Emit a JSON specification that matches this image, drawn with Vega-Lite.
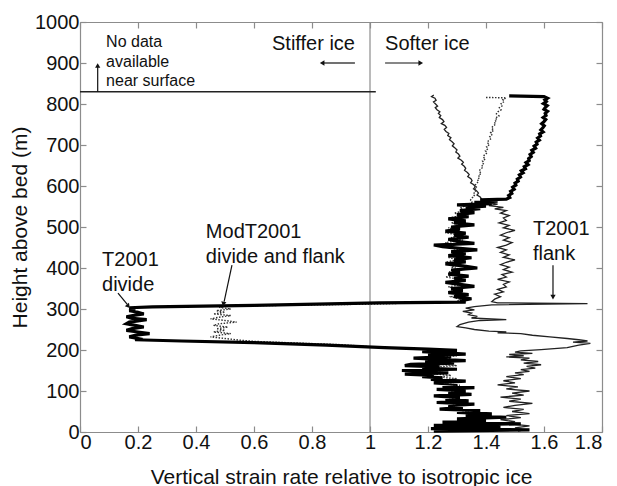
{
  "$schema": "https://vega.github.io/schema/vega-lite/v6.json",
  "width": 522,
  "height": 410,
  "autosize": {"type": "none"},
  "padding": {"left": 80, "top": 22, "right": 15, "bottom": 54},
  "background": "white",
  "config": {
    "view": {"stroke": null},
    "font": "Liberation Sans",
    "axis": {"grid": false, "domainColor": "#8c8c8c", "tickColor": "#8c8c8c", "labelColor": "#111", "titleColor": "#111", "labelFont": "Liberation Sans", "titleFont": "Liberation Sans", "labelFontSize": 20, "titleFontSize": 21, "titleFontWeight": "normal", "tickSize": -6, "tickWidth": 1.2, "domainWidth": 1.2}
  },
  "datasets": {
    "divide": [
      {"h":820,"v":1.48},{"h":818,"v":1.60},{"h":814,"v":1.612},{"h":810,"v":1.603},{"h":806,"v":1.608},{"h":801,"v":1.598},{"h":796,"v":1.611},{"h":792,"v":1.605},{"h":787,"v":1.60},{"h":782,"v":1.612},{"h":777,"v":1.604},{"h":772,"v":1.607},{"h":767,"v":1.597},{"h":762,"v":1.606},{"h":757,"v":1.60},{"h":752,"v":1.592},{"h":747,"v":1.601},{"h":742,"v":1.596},{"h":737,"v":1.589},{"h":732,"v":1.597},{"h":727,"v":1.585},{"h":722,"v":1.588},{"h":717,"v":1.578},{"h":712,"v":1.584},{"h":707,"v":1.573},{"h":702,"v":1.576},{"h":697,"v":1.566},{"h":692,"v":1.571},{"h":687,"v":1.558},{"h":682,"v":1.563},{"h":677,"v":1.552},{"h":672,"v":1.556},{"h":667,"v":1.547},{"h":662,"v":1.549},{"h":657,"v":1.538},{"h":652,"v":1.545},{"h":647,"v":1.532},{"h":642,"v":1.536},{"h":637,"v":1.522},{"h":632,"v":1.528},{"h":627,"v":1.515},{"h":622,"v":1.519},{"h":617,"v":1.508},{"h":612,"v":1.511},{"h":607,"v":1.50},{"h":602,"v":1.503},{"h":597,"v":1.492},{"h":592,"v":1.497},{"h":587,"v":1.485},{"h":582,"v":1.489},{"h":577,"v":1.478},{"h":572,"v":1.482},{"h":568,"v":1.47},{"h":566,"v":1.38},{"h":563,"v":1.44},{"h":560,"v":1.36},{"h":557,"v":1.42},{"h":554,"v":1.30},{"h":551,"v":1.40},{"h":548,"v":1.33},{"h":545,"v":1.38},{"h":540,"v":1.31},{"h":535,"v":1.36},{"h":530,"v":1.30},{"h":525,"v":1.34},{"h":520,"v":1.27},{"h":515,"v":1.33},{"h":510,"v":1.29},{"h":505,"v":1.36},{"h":500,"v":1.28},{"h":495,"v":1.31},{"h":490,"v":1.26},{"h":485,"v":1.33},{"h":480,"v":1.29},{"h":475,"v":1.34},{"h":470,"v":1.27},{"h":465,"v":1.30},{"h":460,"v":1.36},{"h":456,"v":1.22},{"h":452,"v":1.25},{"h":448,"v":1.31},{"h":444,"v":1.37},{"h":440,"v":1.28},{"h":435,"v":1.33},{"h":430,"v":1.27},{"h":425,"v":1.35},{"h":420,"v":1.29},{"h":415,"v":1.33},{"h":410,"v":1.26},{"h":405,"v":1.32},{"h":400,"v":1.37},{"h":395,"v":1.28},{"h":390,"v":1.31},{"h":385,"v":1.27},{"h":380,"v":1.34},{"h":375,"v":1.29},{"h":370,"v":1.33},{"h":365,"v":1.26},{"h":360,"v":1.31},{"h":355,"v":1.36},{"h":350,"v":1.28},{"h":345,"v":1.32},{"h":340,"v":1.27},{"h":335,"v":1.34},{"h":330,"v":1.29},{"h":325,"v":1.35},{"h":320,"v":1.31},{"h":317,"v":1.33},{"h":315,"v":1.03},{"h":309,"v":0.6},{"h":305,"v":0.25},{"h":303,"v":0.17},{"h":300,"v":0.19},{"h":296,"v":0.17},{"h":292,"v":0.2},{"h":288,"v":0.22},{"h":285,"v":0.19},{"h":281,"v":0.16},{"h":277,"v":0.18},{"h":274,"v":0.23},{"h":271,"v":0.2},{"h":268,"v":0.17},{"h":264,"v":0.16},{"h":260,"v":0.19},{"h":256,"v":0.22},{"h":252,"v":0.18},{"h":248,"v":0.16},{"h":244,"v":0.2},{"h":240,"v":0.24},{"h":236,"v":0.19},{"h":232,"v":0.17},{"h":228,"v":0.2},{"h":225,"v":0.19},{"h":222,"v":0.35},{"h":218,"v":0.6},{"h":212,"v":0.85},{"h":206,"v":1.05},{"h":202,"v":1.2},{"h":199,"v":1.3},{"h":196,"v":1.18},{"h":193,"v":1.26},{"h":190,"v":1.33},{"h":187,"v":1.20},{"h":184,"v":1.28},{"h":180,"v":1.15},{"h":177,"v":1.24},{"h":174,"v":1.33},{"h":171,"v":1.19},{"h":168,"v":1.29},{"h":165,"v":1.14},{"h":162,"v":1.12},{"h":159,"v":1.24},{"h":156,"v":1.18},{"h":153,"v":1.30},{"h":150,"v":1.11},{"h":147,"v":1.20},{"h":144,"v":1.27},{"h":141,"v":1.12},{"h":138,"v":1.22},{"h":135,"v":1.18},{"h":132,"v":1.25},{"h":128,"v":1.21},{"h":124,"v":1.33},{"h":120,"v":1.22},{"h":116,"v":1.30},{"h":112,"v":1.25},{"h":108,"v":1.36},{"h":104,"v":1.23},{"h":100,"v":1.33},{"h":96,"v":1.27},{"h":92,"v":1.35},{"h":88,"v":1.22},{"h":84,"v":1.31},{"h":80,"v":1.26},{"h":76,"v":1.34},{"h":72,"v":1.23},{"h":68,"v":1.36},{"h":64,"v":1.27},{"h":60,"v":1.32},{"h":56,"v":1.24},{"h":52,"v":1.38},{"h":48,"v":1.30},{"h":44,"v":1.42},{"h":40,"v":1.33},{"h":36,"v":1.47},{"h":32,"v":1.30},{"h":28,"v":1.40},{"h":24,"v":1.25},{"h":20,"v":1.52},{"h":16,"v":1.22},{"h":12,"v":1.45},{"h":8,"v":1.21},{"h":5,"v":1.55},{"h":2,"v":1.22}
    ],
    "flank": [
      {"h":822,"v":1.22},{"h":818,"v":1.212},{"h":814,"v":1.224},{"h":809,"v":1.228},{"h":805,"v":1.219},{"h":800,"v":1.226},{"h":795,"v":1.233},{"h":791,"v":1.225},{"h":786,"v":1.231},{"h":781,"v":1.241},{"h":777,"v":1.236},{"h":772,"v":1.244},{"h":767,"v":1.239},{"h":762,"v":1.25},{"h":757,"v":1.255},{"h":752,"v":1.246},{"h":748,"v":1.258},{"h":743,"v":1.264},{"h":738,"v":1.256},{"h":733,"v":1.262},{"h":728,"v":1.272},{"h":723,"v":1.268},{"h":718,"v":1.279},{"h":713,"v":1.274},{"h":708,"v":1.283},{"h":703,"v":1.29},{"h":698,"v":1.284},{"h":693,"v":1.293},{"h":688,"v":1.30},{"h":683,"v":1.296},{"h":678,"v":1.305},{"h":673,"v":1.31},{"h":668,"v":1.303},{"h":663,"v":1.315},{"h":658,"v":1.322},{"h":653,"v":1.316},{"h":648,"v":1.325},{"h":643,"v":1.33},{"h":638,"v":1.326},{"h":633,"v":1.336},{"h":628,"v":1.342},{"h":623,"v":1.337},{"h":618,"v":1.348},{"h":613,"v":1.352},{"h":608,"v":1.347},{"h":603,"v":1.358},{"h":598,"v":1.363},{"h":593,"v":1.357},{"h":588,"v":1.368},{"h":583,"v":1.374},{"h":578,"v":1.369},{"h":573,"v":1.38},{"h":568,"v":1.385},{"h":564,"v":1.39},{"h":560,"v":1.40},{"h":556,"v":1.44},{"h":552,"v":1.41},{"h":548,"v":1.46},{"h":544,"v":1.43},{"h":540,"v":1.47},{"h":534,"v":1.45},{"h":528,"v":1.48},{"h":522,"v":1.46},{"h":516,"v":1.47},{"h":510,"v":1.445},{"h":504,"v":1.48},{"h":498,"v":1.46},{"h":492,"v":1.50},{"h":486,"v":1.47},{"h":480,"v":1.45},{"h":474,"v":1.48},{"h":468,"v":1.46},{"h":462,"v":1.49},{"h":456,"v":1.47},{"h":450,"v":1.44},{"h":444,"v":1.47},{"h":438,"v":1.45},{"h":432,"v":1.48},{"h":426,"v":1.46},{"h":420,"v":1.50},{"h":414,"v":1.47},{"h":408,"v":1.45},{"h":402,"v":1.48},{"h":396,"v":1.46},{"h":390,"v":1.49},{"h":384,"v":1.455},{"h":378,"v":1.47},{"h":372,"v":1.44},{"h":366,"v":1.48},{"h":360,"v":1.46},{"h":354,"v":1.47},{"h":348,"v":1.44},{"h":342,"v":1.46},{"h":336,"v":1.43},{"h":330,"v":1.45},{"h":324,"v":1.43},{"h":318,"v":1.42},{"h":315,"v":1.44},{"h":313,"v":1.75},{"h":310,"v":1.42},{"h":306,"v":1.36},{"h":302,"v":1.33},{"h":298,"v":1.36},{"h":294,"v":1.32},{"h":290,"v":1.35},{"h":286,"v":1.34},{"h":282,"v":1.37},{"h":278,"v":1.35},{"h":274,"v":1.47},{"h":272,"v":1.38},{"h":268,"v":1.34},{"h":262,"v":1.31},{"h":257,"v":1.30},{"h":254,"v":1.33},{"h":250,"v":1.36},{"h":246,"v":1.41},{"h":244,"v":1.47},{"h":242,"v":1.44},{"h":240,"v":1.52},{"h":236,"v":1.56},{"h":232,"v":1.62},{"h":228,"v":1.68},{"h":225,"v":1.72},{"h":222,"v":1.75},{"h":219,"v":1.70},{"h":216,"v":1.76},{"h":212,"v":1.72},{"h":206,"v":1.68},{"h":201,"v":1.59},{"h":198,"v":1.52},{"h":195,"v":1.50},{"h":192,"v":1.56},{"h":189,"v":1.48},{"h":186,"v":1.53},{"h":183,"v":1.47},{"h":180,"v":1.55},{"h":176,"v":1.52},{"h":172,"v":1.58},{"h":168,"v":1.53},{"h":164,"v":1.59},{"h":160,"v":1.54},{"h":156,"v":1.57},{"h":152,"v":1.52},{"h":148,"v":1.55},{"h":144,"v":1.50},{"h":140,"v":1.53},{"h":135,"v":1.47},{"h":130,"v":1.52},{"h":125,"v":1.46},{"h":120,"v":1.50},{"h":115,"v":1.44},{"h":110,"v":1.51},{"h":105,"v":1.47},{"h":100,"v":1.55},{"h":95,"v":1.49},{"h":90,"v":1.53},{"h":85,"v":1.45},{"h":80,"v":1.52},{"h":75,"v":1.48},{"h":70,"v":1.56},{"h":65,"v":1.50},{"h":60,"v":1.46},{"h":55,"v":1.53},{"h":50,"v":1.49},{"h":45,"v":1.55},{"h":40,"v":1.47},{"h":35,"v":1.52},{"h":30,"v":1.45},{"h":25,"v":1.50},{"h":20,"v":1.48},{"h":15,"v":1.55},{"h":10,"v":1.50},{"h":5,"v":1.53},{"h":2,"v":1.51}
    ],
    "mod": [
      {"h":816,"v":1.40},{"h":815,"v":1.47},{"h":811,"v":1.458},{"h":806,"v":1.463},{"h":801,"v":1.452},{"h":796,"v":1.457},{"h":791,"v":1.446},{"h":786,"v":1.452},{"h":781,"v":1.441},{"h":776,"v":1.436},{"h":771,"v":1.445},{"h":766,"v":1.432},{"h":761,"v":1.438},{"h":756,"v":1.428},{"h":751,"v":1.434},{"h":746,"v":1.424},{"h":741,"v":1.419},{"h":736,"v":1.427},{"h":731,"v":1.416},{"h":726,"v":1.422},{"h":721,"v":1.413},{"h":716,"v":1.418},{"h":711,"v":1.409},{"h":706,"v":1.404},{"h":701,"v":1.412},{"h":696,"v":1.402},{"h":691,"v":1.407},{"h":686,"v":1.398},{"h":681,"v":1.404},{"h":676,"v":1.395},{"h":671,"v":1.39},{"h":666,"v":1.398},{"h":661,"v":1.388},{"h":656,"v":1.393},{"h":651,"v":1.385},{"h":646,"v":1.39},{"h":641,"v":1.381},{"h":636,"v":1.376},{"h":631,"v":1.384},{"h":626,"v":1.374},{"h":621,"v":1.379},{"h":616,"v":1.37},{"h":611,"v":1.375},{"h":606,"v":1.366},{"h":601,"v":1.362},{"h":596,"v":1.369},{"h":591,"v":1.36},{"h":586,"v":1.365},{"h":581,"v":1.356},{"h":576,"v":1.36},{"h":571,"v":1.352},{"h":566,"v":1.347},{"h":561,"v":1.352},{"h":556,"v":1.34},{"h":552,"v":1.33},{"h":546,"v":1.31},{"h":540,"v":1.33},{"h":534,"v":1.29},{"h":528,"v":1.32},{"h":522,"v":1.27},{"h":516,"v":1.31},{"h":510,"v":1.28},{"h":504,"v":1.33},{"h":498,"v":1.27},{"h":492,"v":1.30},{"h":486,"v":1.26},{"h":480,"v":1.31},{"h":474,"v":1.28},{"h":468,"v":1.32},{"h":462,"v":1.26},{"h":456,"v":1.29},{"h":450,"v":1.27},{"h":444,"v":1.31},{"h":438,"v":1.28},{"h":432,"v":1.32},{"h":426,"v":1.27},{"h":420,"v":1.30},{"h":414,"v":1.26},{"h":408,"v":1.31},{"h":402,"v":1.28},{"h":396,"v":1.32},{"h":390,"v":1.27},{"h":384,"v":1.30},{"h":378,"v":1.26},{"h":372,"v":1.31},{"h":366,"v":1.28},{"h":360,"v":1.32},{"h":354,"v":1.27},{"h":348,"v":1.30},{"h":342,"v":1.27},{"h":336,"v":1.31},{"h":330,"v":1.28},{"h":324,"v":1.31},{"h":318,"v":1.30},{"h":312,"v":1.02},{"h":307,"v":0.50},{"h":304,"v":0.48},{"h":300,"v":0.52},{"h":296,"v":0.47},{"h":292,"v":0.5},{"h":288,"v":0.46},{"h":284,"v":0.52},{"h":280,"v":0.48},{"h":276,"v":0.45},{"h":272,"v":0.5},{"h":268,"v":0.54},{"h":264,"v":0.48},{"h":260,"v":0.46},{"h":256,"v":0.51},{"h":252,"v":0.47},{"h":248,"v":0.5},{"h":244,"v":0.46},{"h":240,"v":0.52},{"h":236,"v":0.48},{"h":232,"v":0.45},{"h":228,"v":0.5},{"h":224,"v":0.55},{"h":221,"v":0.6},{"h":217,"v":0.75},{"h":213,"v":0.9},{"h":208,"v":1.0},{"h":203,"v":1.15},{"h":200,"v":1.25},{"h":197,"v":1.2},{"h":194,"v":1.27},{"h":190,"v":1.22},{"h":186,"v":1.30},{"h":182,"v":1.24},{"h":178,"v":1.28},{"h":174,"v":1.20},{"h":170,"v":1.27},{"h":166,"v":1.22},{"h":162,"v":1.30},{"h":158,"v":1.21},{"h":154,"v":1.26},{"h":150,"v":1.19},{"h":146,"v":1.25},{"h":142,"v":1.22},{"h":138,"v":1.28},{"h":134,"v":1.24},{"h":130,"v":1.30},{"h":126,"v":1.25},{"h":122,"v":1.28},{"h":118,"v":1.26},{"h":114,"v":1.31},{"h":110,"v":1.27},{"h":106,"v":1.30},{"h":102,"v":1.26},{"h":98,"v":1.30},{"h":94,"v":1.27},{"h":90,"v":1.31},{"h":86,"v":1.26},{"h":82,"v":1.29},{"h":78,"v":1.27},{"h":74,"v":1.31},{"h":70,"v":1.28},{"h":66,"v":1.31},{"h":62,"v":1.27},{"h":58,"v":1.32},{"h":54,"v":1.30},{"h":50,"v":1.34},{"h":46,"v":1.32},{"h":42,"v":1.37},{"h":38,"v":1.35},{"h":34,"v":1.40},{"h":30,"v":1.37},{"h":26,"v":1.39},{"h":22,"v":1.36},{"h":18,"v":1.40},{"h":14,"v":1.38},{"h":10,"v":1.41},{"h":6,"v":1.39},{"h":2,"v":1.40}
    ],
    "labels": [
      {"t":"Stiffer ice","v":0.662,"h":932,"s":"big"},
      {"t":"Softer ice","v":1.052,"h":932,"s":"big"},
      {"t":"T2001","v":0.076,"h":405,"s":"big"},
      {"t":"divide","v":0.076,"h":344,"s":"big"},
      {"t":"ModT2001","v":0.434,"h":473,"s":"big"},
      {"t":"divide and flank","v":0.434,"h":412,"s":"big"},
      {"t":"T2001","v":1.562,"h":480,"s":"big"},
      {"t":"flank","v":1.562,"h":420,"s":"big"},
      {"t":"No data","v":0.09,"h":940,"s":"small"},
      {"t":"available","v":0.09,"h":890,"s":"small"},
      {"t":"near surface","v":0.09,"h":843,"s":"small"}
    ],
    "shafts": [
      {"v":0.061,"h":830,"v2":0.061,"h2":890},
      {"v":0.948,"h":900,"v2":0.84,"h2":900},
      {"v":1.052,"h":900,"v2":1.17,"h2":900},
      {"v":0.131,"h":339,"v2":0.163,"h2":311},
      {"v":0.524,"h":407,"v2":0.497,"h2":318},
      {"v":1.631,"h":407,"v2":1.631,"h2":332}
    ],
    "ticks": [{"v":0},{"v":0.2},{"v":0.4},{"v":0.6},{"v":0.8},{"v":1},{"v":1.2},{"v":1.4},{"v":1.6},{"v":1.8}]
  },
  "layer": [
    {
      "data": {"values": [{"v": 1}]},
      "mark": {"type": "rule", "color": "#8c8c8c", "strokeWidth": 1.2},
      "encoding": {"x": {"field": "v", "type": "quantitative", "scale": {"domain": [0, 1.8]}, "axis": null}}
    },
    {
      "data": {"values": [{"v": 0, "v2": 1.02, "h": 830}]},
      "mark": {"type": "rule", "color": "#222", "strokeWidth": 1.6},
      "encoding": {
        "x": {"field": "v", "type": "quantitative", "axis": null},
        "x2": {"field": "v2"},
        "y": {"field": "h", "type": "quantitative", "axis": null}
      }
    },
    {
      "data": {"name": "flank"},
      "mark": {"type": "line", "color": "#222", "strokeWidth": 1.3},
      "encoding": {
        "x": {"field": "v", "type": "quantitative", "axis": null},
        "y": {"field": "h", "type": "quantitative", "axis": null},
        "order": {"field": "h", "sort": "descending"}
      }
    },
    {
      "data": {"name": "mod"},
      "mark": {"type": "line", "color": "#333", "strokeWidth": 1.4, "strokeDash": [1.5, 1.5]},
      "encoding": {
        "x": {"field": "v", "type": "quantitative", "axis": null},
        "y": {"field": "h", "type": "quantitative", "axis": null},
        "order": {"field": "h", "sort": "descending"}
      }
    },
    {
      "data": {"name": "divide"},
      "mark": {"type": "line", "color": "#000", "strokeWidth": 3.2},
      "encoding": {
        "x": {"field": "v", "type": "quantitative", "scale": {"domain": [0, 1.8]}, "axis": {"orient": "bottom", "values": [0,0.2,0.4,0.6,0.8,1,1.2,1.4,1.6,1.8], "format": "~g", "labelPadding": 6, "title": "Vertical strain rate relative to isotropic ice", "titleX": 261, "titleY": 51, "titleBaseline": "alphabetic"}},
        "y": {"field": "h", "type": "quantitative", "scale": {"domain": [0, 1000]}, "axis": {"orient": "left", "values": [0,100,200,300,400,500,600,700,800,900,1000], "format": "d", "labelPadding": 7, "title": "Height above bed (m)", "titleX": -54, "titleY": 205, "titleAngle": -90, "titleBaseline": "alphabetic", "titleAlign": "center"}},
        "order": {"field": "h", "sort": "descending"}
      }
    },
    {
      "data": {"name": "ticks"},
      "mark": {"type": "point", "opacity": 0},
      "encoding": {
        "x": {"field": "v", "type": "quantitative", "axis": {"orient": "top", "values": [0,0.2,0.4,0.6,0.8,1,1.2,1.4,1.6,1.8], "labels": false, "title": null}},
        "y": {"datum": 500, "type": "quantitative", "axis": {"orient": "right", "values": [0,100,200,300,400,500,600,700,800,900,1000], "labels": false, "title": null}}
      }
    },
    {
      "data": {"name": "shafts"},
      "mark": {"type": "rule", "color": "#111", "strokeWidth": 1.2},
      "encoding": {
        "x": {"field": "v", "type": "quantitative", "axis": null},
        "y": {"field": "h", "type": "quantitative", "axis": null},
        "x2": {"field": "v2"},
        "y2": {"field": "h2"}
      }
    },
    {
      "data": {"values": [{"v": 0.061, "h": 894}]},
      "mark": {"type": "point", "shape": "triangle-up", "filled": true, "color": "#111", "size": 28, "opacity": 1},
      "encoding": {"x": {"field": "v", "type": "quantitative", "axis": null}, "y": {"field": "h", "type": "quantitative", "axis": null}}
    },
    {
      "data": {"values": [{"v": 0.835, "h": 900}]},
      "mark": {"type": "point", "shape": "triangle-left", "filled": true, "color": "#111", "size": 28, "opacity": 1},
      "encoding": {"x": {"field": "v", "type": "quantitative", "axis": null}, "y": {"field": "h", "type": "quantitative", "axis": null}}
    },
    {
      "data": {"values": [{"v": 1.175, "h": 900}]},
      "mark": {"type": "point", "shape": "triangle-right", "filled": true, "color": "#111", "size": 28, "opacity": 1},
      "encoding": {"x": {"field": "v", "type": "quantitative", "axis": null}, "y": {"field": "h", "type": "quantitative", "axis": null}}
    },
    {
      "data": {"values": [{"v": 1.631, "h": 329}]},
      "mark": {"type": "point", "shape": "triangle-down", "filled": true, "color": "#111", "size": 28, "opacity": 1},
      "encoding": {"x": {"field": "v", "type": "quantitative", "axis": null}, "y": {"field": "h", "type": "quantitative", "axis": null}}
    },
    {
      "data": {"values": [{"v": 0.165, "h": 308}]},
      "mark": {"type": "point", "shape": "triangle", "angle": 141, "filled": true, "color": "#111", "size": 28, "opacity": 1},
      "encoding": {"x": {"field": "v", "type": "quantitative", "axis": null}, "y": {"field": "h", "type": "quantitative", "axis": null}}
    },
    {
      "data": {"values": [{"v": 0.495, "h": 314}]},
      "mark": {"type": "point", "shape": "triangle", "angle": 192, "filled": true, "color": "#111", "size": 28, "opacity": 1},
      "encoding": {"x": {"field": "v", "type": "quantitative", "axis": null}, "y": {"field": "h", "type": "quantitative", "axis": null}}
    },
    {
      "data": {"name": "labels"},
      "transform": [{"filter": "datum.s == 'big'"}],
      "mark": {"type": "text", "align": "left", "baseline": "alphabetic", "font": "Liberation Sans", "fontSize": 20, "color": "#111"},
      "encoding": {"x": {"field": "v", "type": "quantitative", "axis": null}, "y": {"field": "h", "type": "quantitative", "axis": null}, "text": {"field": "t"}}
    },
    {
      "data": {"name": "labels"},
      "transform": [{"filter": "datum.s == 'small'"}],
      "mark": {"type": "text", "align": "left", "baseline": "alphabetic", "font": "Liberation Sans", "fontSize": 16, "color": "#111"},
      "encoding": {"x": {"field": "v", "type": "quantitative", "axis": null}, "y": {"field": "h", "type": "quantitative", "axis": null}, "text": {"field": "t"}}
    }
  ],
  "resolve": {"axis": {"x": "independent", "y": "independent"}}
}
